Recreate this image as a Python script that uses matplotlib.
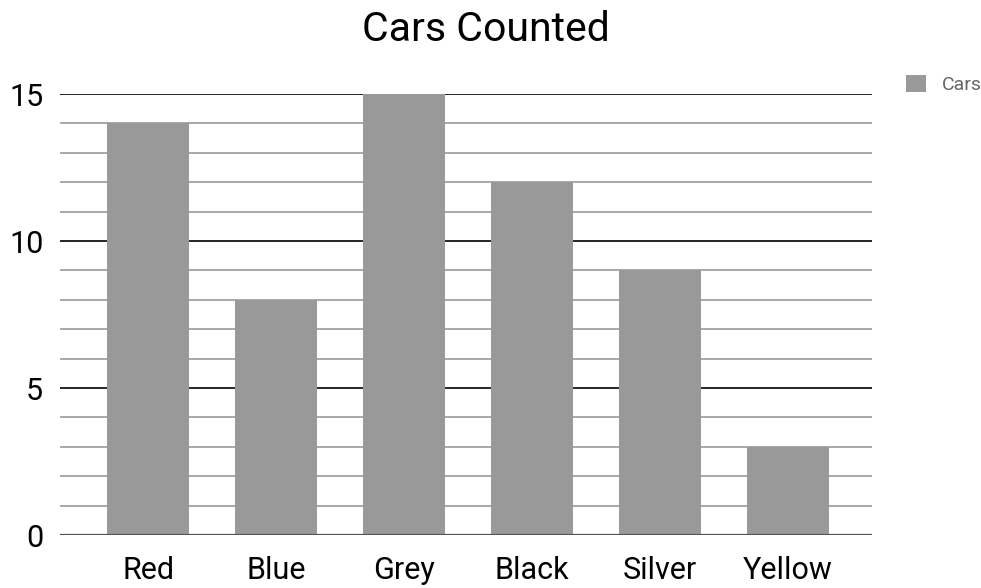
import matplotlib
matplotlib.use("Agg")
import matplotlib.pyplot as plt
from matplotlib.patches import Patch

plt.rcParams['font.family'] = ['Roboto', 'DejaVu Sans']

categories = ["Red", "Blue", "Grey", "Black", "Silver", "Yellow"]
cars = [14, 8, 15, 12, 9, 3]
yticks = [0, 5, 10, 15]

fig = plt.figure(figsize=(9.81, 5.88), dpi=100)
ax = fig.add_axes([0.0612, 0.090, 0.828, 0.750])

x = list(range(len(categories)))
ax.bar(x, cars, width=0.64, color="#999999", zorder=3)

ax.set_xlim(-0.69, 5.66)
ax.set_ylim(0, 15)

# minor grid every 1, major every 5
for v in range(1, 15):
    if v % 5:
        ax.axhline(v, color="#999999", lw=1.2, zorder=1)
for v in yticks[1:]:
    ax.axhline(v, color="#000000", lw=1.2, zorder=1)
ax.axhline(0, color="#555555", lw=1.6, zorder=4)

ax.set_yticks(yticks)
ax.set_xticks(x)
ax.set_xticklabels(categories)
ax.tick_params(axis="both", length=0, labelsize=22, colors="#000000")
ax.tick_params(axis="y", pad=12)
ax.tick_params(axis="x", pad=15)
for s in ax.spines.values():
    s.set_visible(False)

fig.text(0.4954, 0.950, "Cars Counted", ha="center", va="center", fontsize=29.5)

handles = [Patch(facecolor="#999999", edgecolor="none", label="Cars")]
fig.legend(handles=handles, loc="upper left", bbox_to_anchor=(0.924, 0.873),
           frameon=False, fontsize=14, handlelength=1.0, handleheight=1.0,
           labelcolor="#666666", borderaxespad=0, borderpad=0,
           handletextpad=0.8)

fig.savefig("out.png", dpi=100)
